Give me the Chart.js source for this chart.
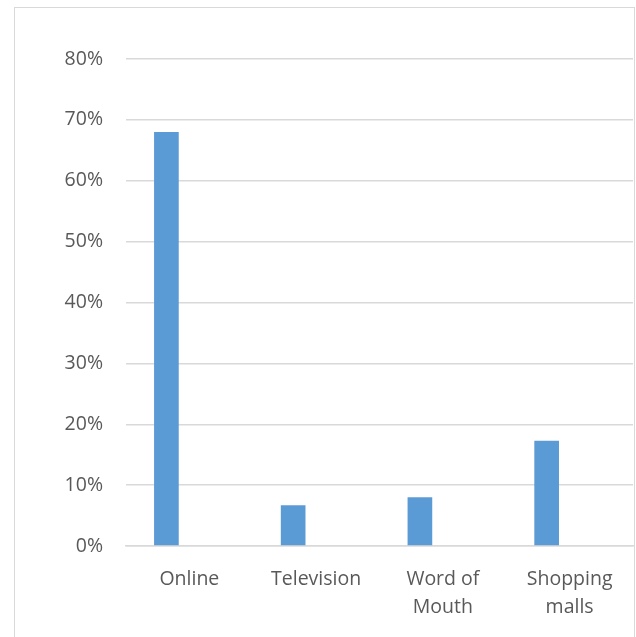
<!DOCTYPE html>
<html>
<head>
<meta charset="utf-8">
<script src="https://cdn.jsdelivr.net/npm/chart.js@4"></script>
<style>
  html, body { margin: 0; padding: 0; background: #fff; }
  #wrap { position: relative; width: 636px; height: 637px; overflow: hidden; }
  #frame { position: absolute; left: 14px; top: 7px; width: 621px; height: 700px; border: 1.5px solid #d9d9d9; box-sizing: border-box; }
  #chart { position: absolute; left: 0; top: 0; }
</style>
</head>
<body>
<div id="wrap">
  <div id="frame"></div>
  <canvas id="chart" width="636" height="637"></canvas>
</div>
<script>
// values
const categories = ['Online', 'Television', ['Word of', 'Mouth'], ['Shopping', 'malls']];
const shares = [68, 6.7, 8, 17.3];
const emptySeries = [null, null, null, null];
const yTicks = [0, 10, 20, 30, 40, 50, 60, 70, 80];

document.addEventListener('DOMContentLoaded', function () {
    const ctx = document.getElementById('chart');
    Chart.defaults.font.family = '"Open Sans", sans-serif';
    Chart.defaults.color = '#595959';

    new Chart(ctx, {
        type: 'bar',
        data: {
            labels: categories,
            datasets: [{
                label: 'Series1',
                data: shares,
                backgroundColor: '#5b9bd5',
                borderWidth: 0
            }, {
                label: 'Series2',
                data: emptySeries,
                backgroundColor: '#ed7d31'
            }]
        },
        options: {
            responsive: false,
            animation: false,
            categoryPercentage: 0.725,
            barPercentage: 0.537,
            layout: { padding: { top: 59, right: 3, left: 0, bottom: 0 } },
            plugins: { legend: { display: false }, tooltip: { enabled: false } },
            scales: {
                x: {
                    grid: { display: false, drawTicks: false },
                    border: { display: true, color: '#d9d9d9', width: 1.5 },
                    ticks: { font: { size: 19.5, lineHeight: 1.42 }, padding: 20, maxRotation: 0 },
                    afterFit: function (scale) { scale.height = 91; }
                },
                y: {
                    min: 0,
                    max: 80,
                    afterBuildTicks: function (scale) {
                        scale.ticks = yTicks.map(v => ({ value: v }));
                    },
                    grid: { color: '#d9d9d9', lineWidth: 1.5, drawTicks: false },
                    border: { display: false },
                    ticks: {
                        font: { size: 19.5 },
                        padding: 23,
                        callback: v => v + '%'
                    },
                    afterFit: function (scale) { scale.width = 126; }
                }
            }
        }
    });
});
</script>
</body>
</html>
